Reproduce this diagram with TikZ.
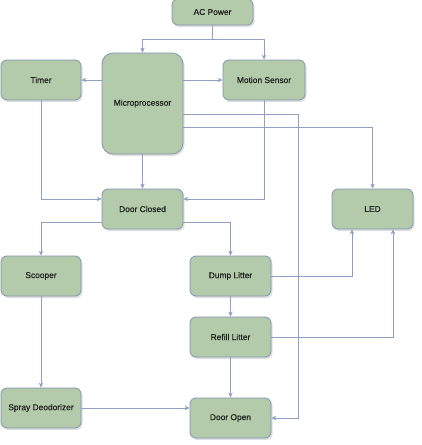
\documentclass[tikz,border=0pt]{standalone}
\usepackage{fontspec}
\setmainfont{Liberation Sans}
\newfontfamily\lblfont[FakeBold=0.7]{Liberation Sans}
\usetikzlibrary{shadows,arrows.meta}
\definecolor{boxfill}{HTML}{B3CBAB}
\definecolor{boxline}{HTML}{8294B2}
\definecolor{linec}{HTML}{8FA0C2}
\definecolor{txt}{HTML}{222222}
\begin{document}
\begin{tikzpicture}[x=1pt,y=-1pt,
  blk/.style={draw=boxline,line width=0.8pt,fill=boxfill,rounded corners=6pt,
    minimum height=40pt,inner sep=0pt,text=txt,font=\lblfont\fontsize{8.4}{9}\selectfont,
    drop shadow={shadow xshift=1.5pt,shadow yshift=-2pt,opacity=0.25,fill=gray}},
  conn/.style={draw=linec,line width=0.7pt,-{Stealth[length=5pt,width=4.5pt]}},
  plain/.style={draw=linec,line width=0.7pt}]
\useasboundingbox (0,0) rectangle (421,445);
\node[blk,minimum width=81pt,minimum height=26pt] (ac) at (212.5,12) {AC Power};
\node[blk,minimum width=81pt,minimum height=101pt,rounded corners=11pt] (mp) at (142.5,103.5) {Microprocessor};
\node[blk,minimum width=80pt] (tm) at (41,80) {Timer};
\node[blk,minimum width=82pt] (ms) at (264,80) {Motion Sensor};
\node[blk,minimum width=81pt] (dc) at (142.5,209) {Door Closed};
\node[blk,minimum width=81pt] (led) at (372.5,209) {LED};
\node[blk,minimum width=80pt] (sc) at (41,276) {Scooper};
\node[blk,minimum width=81pt] (dl) at (230.5,276) {Dump Litter};
\node[blk,minimum width=81pt] (rl) at (230.5,337) {Refill Litter};
\node[blk,minimum width=80pt] (sd) at (41,408) {Spray Deodorizer};
\node[blk,minimum width=81pt] (do) at (230.5,418) {Door Open};
\draw[plain] (ac.south) -- ++(0,14) coordinate (acj);
\draw[conn] (acj) -| (mp.north);
\draw[conn] (acj) -| (ms.north);
\draw[conn] (mp.west |- tm.east) -- (tm.east);
\draw[conn] (mp.east |- ms.west) -- (ms.west);
\draw[conn] (tm.south) |- ([yshift=10pt]dc.west);
\draw[conn] (mp.south) -- (dc.north);
\draw[conn] (ms.south) |- ([yshift=10pt]dc.east);
\draw[conn] ([yshift=-10.5pt]mp.east) -- ++(115,0) |- (do.east);
\draw[conn] ([yshift=-23.5pt]mp.east) -| (led.north);
\draw[conn] ([yshift=-13pt]dc.west) -| (sc.north);
\draw[conn] ([yshift=-13pt]dc.east) -| (dl.north);
\draw[conn] (dl.east) -| ([xshift=-20.5pt]led.south);
\draw[conn] (rl.east) -| ([xshift=20.5pt]led.south);
\draw[conn] (dl.south) -- (rl.north);
\draw[conn] (rl.south) -- (do.north);
\draw[conn] (sc.south) -- (sd.north);
\draw[conn] (sd.east) -- (do.west |- sd.east);
\end{tikzpicture}
\end{document}
